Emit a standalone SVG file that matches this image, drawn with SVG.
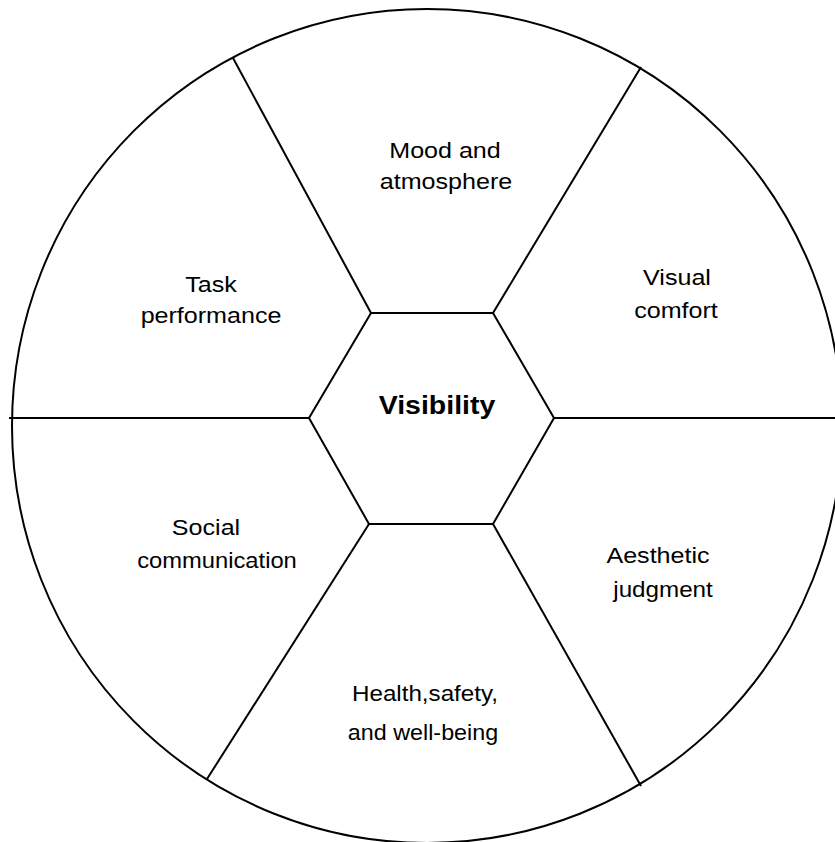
<svg xmlns="http://www.w3.org/2000/svg" width="835" height="842" viewBox="0 0 835 842">
<style>
  .edge { stroke: #000; stroke-width: 2; fill: none; stroke-linecap: butt; }
  .shape { stroke: #000; stroke-width: 2; fill: none; }
  .lbl { font-family: "Liberation Sans", Arial, sans-serif; font-size: 22px; fill: #000; text-anchor: middle; }
  .title { font-family: "Liberation Sans", Arial, sans-serif; font-size: 25px; font-weight: bold; fill: #000; text-anchor: middle; }
</style>
<rect width="835" height="842" fill="#fff"/>
<ellipse id="outer-circle" class="shape" cx="427" cy="426" rx="415" ry="417"/>
<g id="connectors">
  <line class="edge" x1="371" y1="313" x2="233" y2="58"/>
  <line class="edge" x1="493" y1="313" x2="641" y2="67"/>
  <line class="edge" x1="554" y1="418" x2="835" y2="418"/>
  <line class="edge" x1="493" y1="524" x2="641" y2="786"/>
  <line class="edge" x1="369" y1="524" x2="207" y2="779"/>
  <line class="edge" x1="309" y1="418" x2="9" y2="418"/>
</g>
<g id="visibility">
  <polygon class="shape" points="371,313 493,313 554,418 493,524 369,524 309,418"/>
  <text class="title" transform="translate(437,414) scale(1.14,1)">Visibility</text>
</g>
<g id="mood">
  <text class="lbl" transform="translate(445,158) scale(1.14,1)">Mood and</text>
  <text class="lbl" transform="translate(446,189) scale(1.14,1)">atmosphere</text>
</g>
<g id="visual-comfort">
  <text class="lbl" transform="translate(677,285) scale(1.14,1)">Visual</text>
  <text class="lbl" transform="translate(676,318) scale(1.14,1)">comfort</text>
</g>
<g id="task">
  <text class="lbl" transform="translate(211,292) scale(1.14,1)">Task</text>
  <text class="lbl" transform="translate(211,323) scale(1.14,1)">performance</text>
</g>
<g id="social">
  <text class="lbl" transform="translate(206,535) scale(1.14,1)">Social</text>
  <text class="lbl" transform="translate(217,568) scale(1.08,1)">communication</text>
</g>
<g id="aesthetic">
  <text class="lbl" transform="translate(658,563) scale(1.14,1)">Aesthetic</text>
  <text class="lbl" transform="translate(663,597) scale(1.1,1)">judgment</text>
</g>
<g id="health">
  <text class="lbl" transform="translate(425,701) scale(1.1,1)">Health,safety,</text>
  <text class="lbl" transform="translate(423,740) scale(1.06,1)">and well-being</text>
</g>
</svg>
